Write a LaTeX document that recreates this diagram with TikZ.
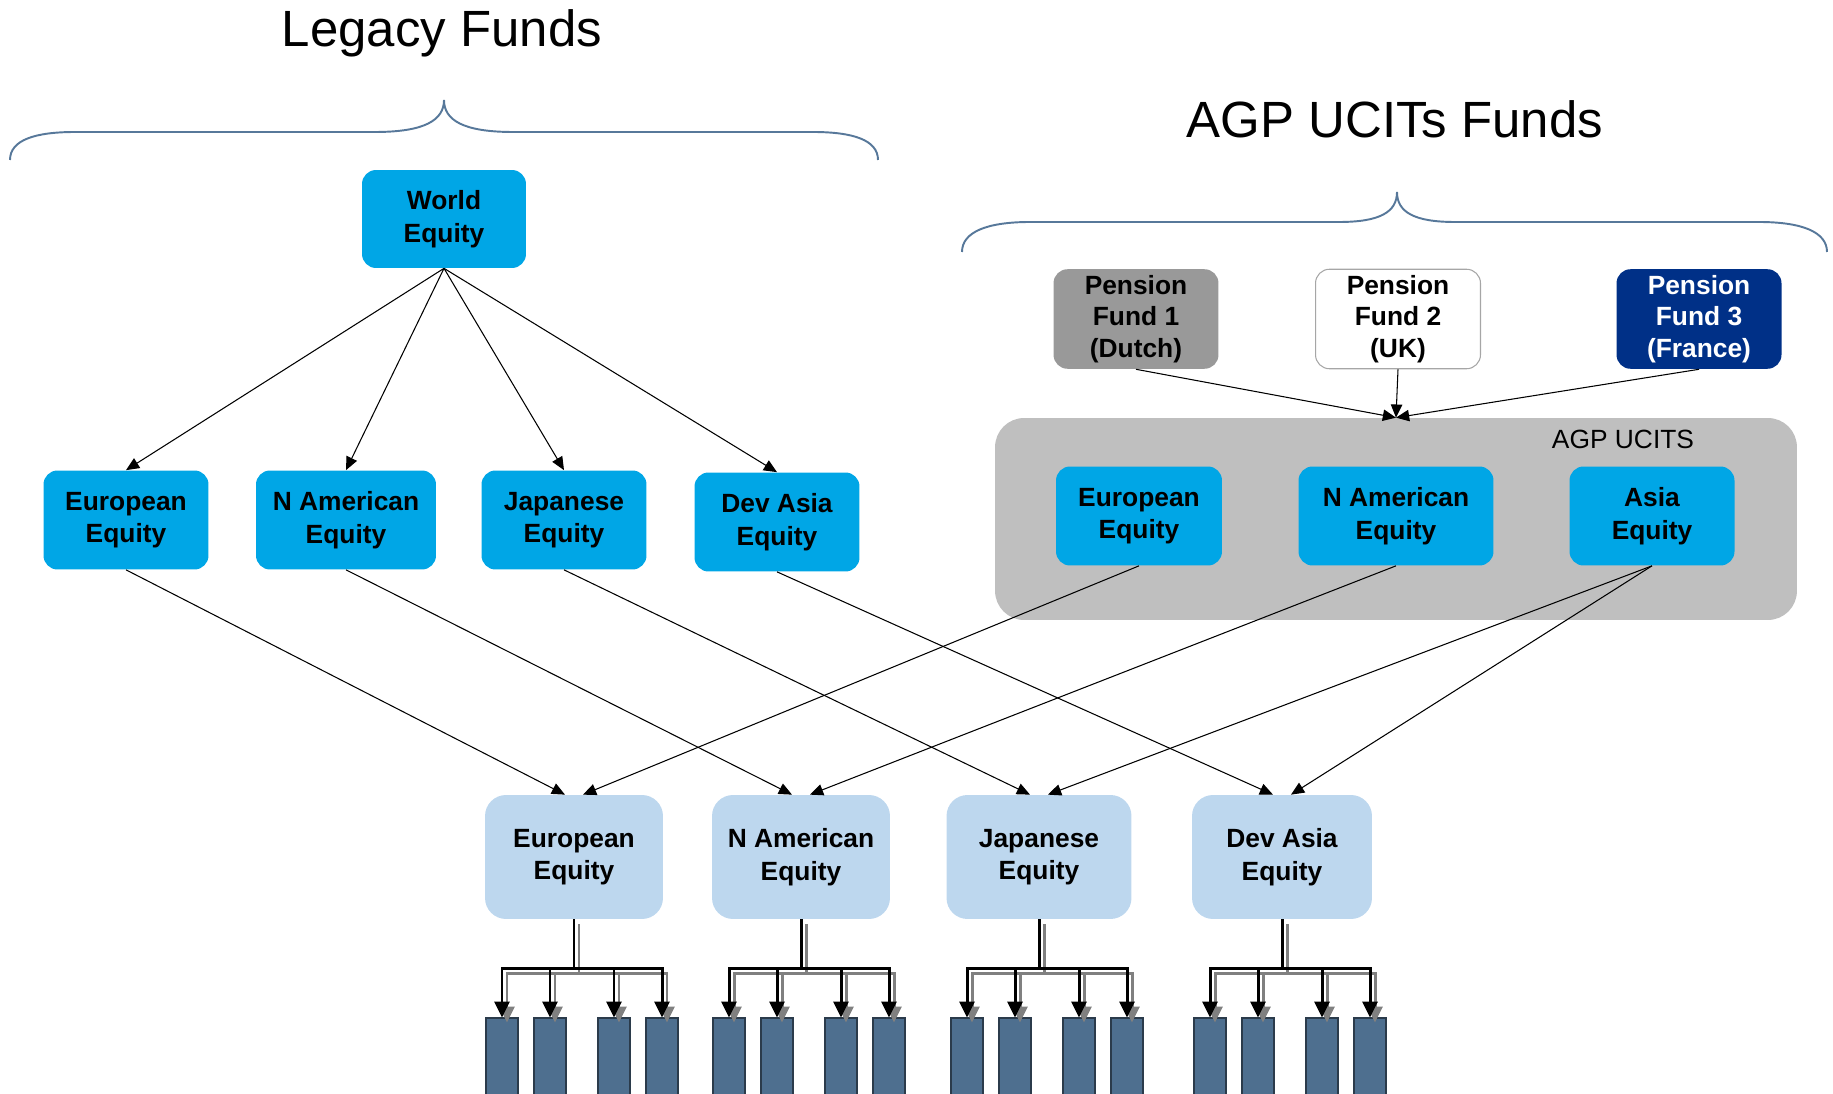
\documentclass[tikz,border=0pt]{standalone}
\usepackage{fontspec}
\setmainfont{Liberation Sans}
\usepackage{tikz}
\usetikzlibrary{
    shapes,
    arrows.meta,
}
\definecolor{fundBlue}{HTML}{00A6E6}
\definecolor{targetBlue}{HTML}{BDD7EE}
\definecolor{boxGray}{HTML}{BFBFBF}
\definecolor{pensionGray}{HTML}{999999}
\definecolor{pensionEdge}{HTML}{A6A6A6}
\definecolor{pensionNavy}{HTML}{003087}
\definecolor{holdingBlue}{HTML}{4E6F8F}
\definecolor{holdingEdge}{HTML}{2B3B4B}
\definecolor{braceBlue}{HTML}{57789A}
\tikzset{
    fund/.style = {
        rectangle,
        rounded corners=0.28cm,
        minimum width=3.3cm,
        minimum height=1.98cm,
        align=center,
        fill=fundBlue,
        font=\fontsize{15}{18.5}\selectfont\bfseries,
    },
    pension/.style = {
        fund,
        fill=white,
        draw=pensionEdge,
        line width=0.6pt,
        font=\fontsize{15}{18}\selectfont\bfseries,
    },
    target/.style = {
        fund,
        rounded corners=0.42cm,
        minimum width=3.56cm,
        minimum height=2.48cm,
        fill=targetBlue,
    },
    holding/.style = {
        rectangle,
        minimum width=0.64cm,
        minimum height=1.6cm,
        fill=holdingBlue,
        draw=holdingEdge,
        line width=0.6pt,
    },
    agpbox/.style = {
        rectangle,
        rounded corners=0.58cm,
        minimum width=16.04cm,
        minimum height=4.04cm,
        fill=boxGray,
    },
    fundtitle/.style = {
        anchor=base,
        font=\fontsize{29}{34}\selectfont,
    },
    braceline/.style = {
        draw=braceBlue,
        line width=1.1pt,
    },
}
\tikzstyle{arrow} = [
    line width=0.6pt,
    -{Triangle[length=7.5pt,width=6.5pt]}
]
\tikzstyle{treeline} = [
    line width=1.7pt,
    -{Triangle[length=9pt,width=8.5pt]}
]

\begin{document}
\begin{tikzpicture}[x=0.02cm, y=-0.02cm]
        \useasboundingbox (0,0) rectangle (1833,1094);

        \node [fundtitle] (legacyTitle) at (442,47) {Legacy Funds};
        \node [fundtitle] (agpTitle) at (1395,138) {AGP UCITs Funds};

        \draw [braceline] (10,160) .. controls (10,140) and (35,132) .. (75,132) -- (375,132)
            .. controls (425,132) and (444,120) .. (444,100)
            .. controls (444,120) and (463,132) .. (513,132) -- (813,132)
            .. controls (853,132) and (878,140) .. (878,160);
        \draw [braceline] (962,252) .. controls (962,232) and (987,222) .. (1030,222) -- (1339,222)
            .. controls (1380,222) and (1397,212) .. (1397,192)
            .. controls (1397,212) and (1414,222) .. (1455,222) -- (1759,222)
            .. controls (1802,222) and (1827,232) .. (1827,252);

        % legacy funds
        \node [fund, minimum width=3.28cm, minimum height=1.96cm] (world) at (444,219)
        {World\\Equity};

        \node [fund] (legEuro) at (126,520) {European\\Equity};
        \node [fund, minimum width=3.6cm] (legNAm) at (346,520) {N American\\Equity};
        \node [fund] (legJap) at (564,520) {Japanese\\Equity};
        \node [fund] (legDev) at (777,522) {Dev Asia\\Equity};

        % AGP UCITS
        \node [agpbox] (agpBox) at (1396,519) {};
        \node [anchor=base, font=\fontsize{15}{18}\selectfont] (agpLabel) at (1623,449) {AGP UCITS};

        \node [pension, fill=pensionGray, draw=none] (pension1) at (1136,319)
        {Pension\\Fund 1\\(Dutch)};
        \node [pension] (pension2) at (1398,319)
        {Pension\\Fund 2\\(UK)};
        \node [pension, fill=pensionNavy, draw=none, text=white] (pension3) at (1699,319)
        {Pension\\Fund 3\\(France)};

        \node [fund, minimum width=3.32cm] (ucEuro) at (1139,516) {European\\Equity};
        \node [fund, minimum width=3.9cm] (ucNAm) at (1396,516) {N American\\Equity};
        \node [fund] (ucAsia) at (1652,516) {Asia\\Equity};

        % underlying funds
        \node [target] (botEuro) at (574,857) {European\\Equity};
        \node [target] (botNAm) at (801,857) {N American\\Equity};
        \node [target, minimum width=3.7cm] (botJap) at (1039,857) {Japanese\\Equity};
        \node [target, minimum width=3.6cm] (botDev) at (1282,857) {Dev Asia\\Equity};

        \draw [arrow] (world.south) -- (legEuro.north);
        \draw [arrow] (world.south) -- (legNAm.north);
        \draw [arrow] (world.south) -- (legJap.north);
        \draw [arrow] (world.south) -- (legDev.north);

        \draw [arrow] (pension1.south) -- (agpBox.north);
        \draw [arrow] (pension2.south) -- (agpBox.north);
        \draw [arrow] (pension3.south) -- (agpBox.north);

        \draw [arrow] (legEuro.south) -- ([xshift=-0.18cm]botEuro.north);
        \draw [arrow] (legNAm.south) -- ([xshift=-0.18cm]botNAm.north);
        \draw [arrow] (legJap.south) -- ([xshift=-0.18cm]botJap.north);
        \draw [arrow] (legDev.south) -- ([xshift=-0.18cm]botDev.north);
        \draw [arrow] (ucEuro.south) -- ([xshift=0.18cm]botEuro.north);
        \draw [arrow] (ucNAm.south) -- ([xshift=0.18cm]botNAm.north);
        \draw [arrow] (ucAsia.south) -- ([xshift=0.18cm]botJap.north);
        \draw [arrow] (ucAsia.south) -- ([xshift=0.18cm]botDev.north);

        % holdings
        \foreach \n/\cx in {botEuro/574, botNAm/801, botJap/1039, botDev/1282}{
            \foreach \k/\dx in {1/-72, 2/-24, 3/40, 4/88}
                \node [holding] (\n\k) at ({\cx+(\dx)},1058) {};
            \foreach \k in {1,...,4}
                \draw [treeline, draw=gray]
                    ([xshift=0.1cm,yshift=-0.1cm]\n.south) -- ++(0,49)
                    -| ([xshift=0.1cm,yshift=-0.1cm]\n\k.north);
            \foreach \k in {1,...,4}
                \draw [treeline] (\n.south) -- ++(0,49) -| (\n\k.north);
        }

    \end{tikzpicture}
\end{document}
